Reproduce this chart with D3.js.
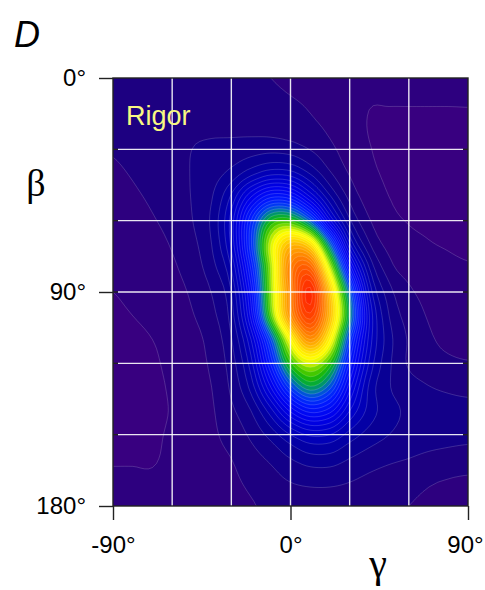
<!DOCTYPE html>
<html><head><meta charset="utf-8">
<script src="https://cdn.jsdelivr.net/npm/d3@7"></script>
<style>html,body{margin:0;padding:0;background:#fff;}svg{display:block;}</style>
</head><body>
<svg id="chart" width="485" height="590"></svg>
<script>
// gamma (x) sample positions and beta (y) sample positions, degrees
const gammaSamples = [-90,-80,-70,-60,-50,-40,-30,-20,-10,0,10,20,30,40,50,60,70,80,90];
const betaSamples = [0,10,20,30,40,50,60,70,80,90,100,110,120,130,140,150,160,170,180];
// relative density, one row per beta sample
const row000 = [.065,.065,.065,.065,.062,.060,.056,.052,.050,.046,.042,.038,.034,.031,.030,.030,.030,.030,.030];
const row010 = [.062,.064,.066,.068,.068,.066,.062,.058,.056,.052,.047,.040,.032,.026,.026,.026,.026,.026,.026];
const row020 = [.058,.062,.066,.070,.072,.072,.070,.068,.066,.062,.055,.045,.034,.024,.021,.021,.021,.021,.022];
const row030 = [.052,.058,.064,.070,.075,.078,.082,.088,.092,.088,.074,.056,.038,.026,.020,.020,.020,.020,.021];
const row040 = [.046,.052,.060,.068,.076,.088,.108,.140,.165,.160,.122,.078,.048,.030,.022,.020,.020,.020,.020];
const row050 = [.040,.046,.054,.064,.076,.098,.155,.250,.320,.310,.225,.130,.068,.038,.025,.021,.020,.020,.020];
const row060 = [.035,.040,.048,.058,.074,.105,.185,.350,.500,.520,.415,.230,.105,.052,.031,.024,.022,.021,.021];
const row070 = [.030,.034,.042,.052,.068,.100,.180,.370,.600,.740,.690,.430,.180,.078,.042,.031,.026,.024,.023];
const row080 = [.027,.030,.036,.046,.062,.090,.150,.330,.580,.830,.880,.600,.300,.125,.060,.040,.032,.028,.026];
const row090 = [.025,.027,.032,.040,.054,.076,.125,.290,.570,.820,.985,.720,.420,.170,.085,.055,.042,.034,.030];
const row100 = [.024,.025,.029,.036,.048,.068,.112,.260,.540,.800,.940,.740,.460,.200,.100,.065,.048,.038,.032];
const row110 = [.022,.022,.025,.031,.041,.060,.098,.200,.400,.640,.800,.650,.380,.190,.110,.072,.054,.044,.038];
const row120 = [.021,.021,.023,.029,.038,.055,.088,.165,.330,.520,.600,.520,.320,.170,.105,.072,.060,.055,.052];
const row130 = [.020,.020,.022,.027,.035,.050,.080,.135,.250,.390,.470,.410,.260,.145,.102,.086,.076,.071,.068];
const row140 = [.020,.020,.022,.026,.033,.047,.070,.100,.165,.255,.310,.285,.200,.140,.110,.095,.088,.084,.082];
const row150 = [.021,.021,.023,.027,.033,.045,.060,.080,.110,.150,.180,.175,.140,.115,.100,.090,.085,.082,.080];
const row160 = [.024,.024,.024,.028,.033,.042,.050,.065,.080,.100,.115,.115,.100,.088,.080,.075,.070,.067,.065];
const row170 = [.027,.027,.027,.029,.033,.040,.045,.055,.065,.075,.080,.080,.075,.068,.062,.057,.052,.048,.045];
const row180 = [.030,.030,.030,.031,.034,.038,.040,.048,.055,.060,.062,.062,.060,.057,.054,.050,.047,.044,.042];
const densityRows = [row000,row010,row020,row030,row040,row050,row060,row070,row080,row090,
                     row100,row110,row120,row130,row140,row150,row160,row170,row180];
const xTicks = [-90, 0, 90];
const yTicks = [0, 90, 180];
const gridGamma = [-60,-30,0,30,60];
const gridBeta = [30,60,90,120,150];
const panelLabel = "D";
const stateLabel = "Rigor";

// colour ramp
const rampStops  = [0,.03,.06,.09,.12,.18,.26,.34,.40,.44,.48,.52,.56,.60,.63,.68,.73,.80,.88,1];
const rampColors = ["#3c0080","#32007f","#1e0080","#12008a","#060098","#0000c4","#0000ec","#0018ff","#0040f0","#007ca0",
                    "#00a840","#20bc00","#70d800","#d8f400","#ffff00","#ffe800","#ffc000","#ff9000","#ff6000","#ff2000"];

const svg = d3.select("#chart");
const L = 113, R = 468, T = 78, B = 506;
const x = d3.scaleLinear().domain([-90, 90]).range([L, R]);
const y = d3.scaleLinear().domain([0, 180]).range([T, B]);
const color = d3.scaleLinear().domain(rampStops).range(rampColors).clamp(true);

// smooth rendering: cubic (Catmull-Rom) resampling of the read grid
const nx = gammaSamples.length, ny = betaSamples.length;
const f = 5;
const NX = (nx - 1) * f + 1, NY = (ny - 1) * f + 1;
function cr(p0, p1, p2, p3, t) {
  return 0.5 * ((2 * p1) + (-p0 + p2) * t + (2 * p0 - 5 * p1 + 4 * p2 - p3) * t * t + (-p0 + 3 * p1 - 3 * p2 + p3) * t * t * t);
}
function at(i, j) {
  i = Math.max(0, Math.min(nx - 1, i)); j = Math.max(0, Math.min(ny - 1, j));
  return densityRows[j][i];
}
const fine = new Array(NX * NY);
for (let J = 0; J < NY; J++) {
  const gj = J / f, j = Math.min(Math.floor(gj), ny - 2), tj = gj - j;
  for (let I = 0; I < NX; I++) {
    const gi = I / f, i = Math.min(Math.floor(gi), nx - 2), ti = gi - i;
    const cols = [-1, 0, 1, 2].map(dj => cr(at(i - 1, j + dj), at(i, j + dj), at(i + 1, j + dj), at(i + 2, j + dj), ti));
    fine[J * NX + I] = cr(cols[0], cols[1], cols[2], cols[3], tj);
  }
}

const step = 0.025;
const thresholds = d3.range(1, 40).map(k => k * step);
const contours = d3.contours().size([NX, NY]).thresholds(thresholds)(fine);

const gStep = (gammaSamples[1] - gammaSamples[0]) / f, bStep = (betaSamples[1] - betaSamples[0]) / f;
const proj = d3.geoTransform({
  point(px, py) {
    this.stream.point(x(gammaSamples[0] + (px - 0.5) * gStep), y(betaSamples[0] + (py - 0.5) * bStep));
  }
});
const path = d3.geoPath(proj);

svg.append("defs").append("clipPath").attr("id", "clip")
  .append("rect").attr("x", L).attr("y", T).attr("width", R - L).attr("height", B - T);

const plot = svg.append("g").attr("clip-path", "url(#clip)");
plot.append("rect").attr("x", L).attr("y", T).attr("width", R - L).attr("height", B - T)
  .attr("fill", color(step / 2));
plot.selectAll("path.band").data(contours).join("path")
  .attr("class", "band")
  .attr("d", path)
  .attr("fill", d => color(d.value + step / 2))
  .attr("stroke", "rgba(255,255,255,0.28)")
  .attr("stroke-width", 0.6);

// grid lines
plot.selectAll("line.vg").data(gridGamma).join("line")
  .attr("x1", d => x(d)).attr("x2", d => x(d)).attr("y1", T).attr("y2", B)
  .attr("stroke", "#fff").attr("stroke-width", 1.4).attr("opacity", 0.9);
plot.selectAll("line.hg").data(gridBeta).join("line")
  .attr("x1", L + 5).attr("x2", R - 5).attr("y1", d => y(d)).attr("y2", d => y(d))
  .attr("stroke", "#fff").attr("stroke-width", 1.4).attr("opacity", 0.9);
plot.selectAll("line.lt").data(gridBeta).join("line")
  .attr("x1", L).attr("x2", L + 5).attr("y1", d => y(d)).attr("y2", d => y(d))
  .attr("stroke", "#222").attr("stroke-width", 1.4);
plot.selectAll("line.rt").data(gridBeta).join("line")
  .attr("x1", R - 5).attr("x2", R).attr("y1", d => y(d)).attr("y2", d => y(d))
  .attr("stroke", "#222").attr("stroke-width", 1.4);

// frame
svg.append("rect").attr("x", L).attr("y", T).attr("width", R - L).attr("height", B - T)
  .attr("fill", "none").attr("stroke", "#222").attr("stroke-width", 1.4);

// axes
const font = "Liberation Sans, Arial, sans-serif";
const yAxis = d3.axisLeft(y).tickValues(yTicks).tickSize(14).tickPadding(13).tickFormat(d => d + "°");
const gy = svg.append("g").attr("transform", `translate(${L},0)`).call(yAxis);
const xAxis = d3.axisBottom(x).tickValues(xTicks).tickSize(14).tickPadding(16).tickFormat(d => d + "°");
const gx = svg.append("g").attr("transform", `translate(0,${B})`).call(xAxis);
[gx, gy].forEach(g => {
  g.select(".domain").remove();
  g.selectAll(".tick line").attr("stroke", "#222").attr("stroke-width", 1.4);
  g.selectAll(".tick text").attr("fill", "#000").attr("font-family", font).attr("font-size", 24);
});
gx.selectAll(".tick text").filter(d => d === 90).attr("dx", -3);

// labels
svg.append("text").attr("x", 14).attr("y", 47).text(panelLabel)
  .attr("font-family", font).attr("font-style", "italic").attr("font-size", 36).attr("fill", "#000");
svg.append("text").attr("x", 126).attr("y", 125).text(stateLabel)
  .attr("font-family", font).attr("font-size", 27).attr("fill", "#f8f882");
svg.append("text").attr("x", 36).attr("y", 196).attr("text-anchor", "middle").text("β")
  .attr("font-family", "Liberation Serif, Times New Roman, serif").attr("font-size", 38).attr("fill", "#000");
svg.append("text").attr("x", 378).attr("y", 577).attr("text-anchor", "middle").text("γ")
  .attr("font-family", "Liberation Serif, Times New Roman, serif").attr("font-size", 40).attr("fill", "#000");
</script>
</body></html>
